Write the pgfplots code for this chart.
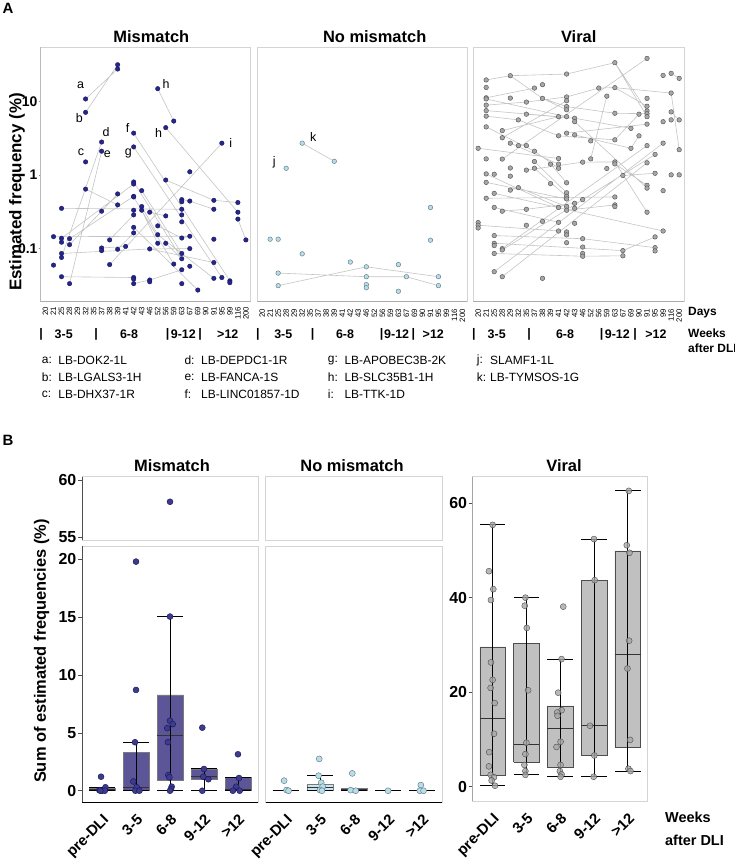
\documentclass[border=0pt]{standalone}
\usepackage{fontspec}
\setmainfont{Liberation Sans}
\usepackage{pgfplots}
\pgfplotsset{compat=1.18}
\definecolor{mmfill}{HTML}{25258A}
\definecolor{mmedge}{HTML}{14145A}
\definecolor{nmfill}{HTML}{B5DDEA}
\definecolor{nmedge}{HTML}{5C6E78}
\definecolor{vfill}{HTML}{A6A6A6}
\definecolor{vedge}{HTML}{4D4D4D}
\definecolor{mmbox}{HTML}{5C5699}
\definecolor{nmbox}{HTML}{C6E6F1}
\definecolor{vbox}{HTML}{C0C0C0}
\definecolor{framegray}{HTML}{D4D4D4}
\definecolor{linegray}{HTML}{C4C4C4}
\definecolor{axgray}{HTML}{8C8C8C}
\definecolor{botgray}{HTML}{ABABAB}
\definecolor{mmdotB}{HTML}{3E3B8A}
\definecolor{boxedge}{HTML}{7A7A7A}
\newcommand{\fs}[1]{\fontsize{#1}{#1}\selectfont}
\pgfplotsset{
  aline/.style={color=linegray, line width=0.6bp, forget plot},
  panelA/.style={
    scale only axis, height=254.7bp,
    ymin=0.01875, ymax=55.1,
    xmin=-0.6, xmax=25.6,
    axis line style={draw=framegray, line width=0.8bp},
    xtick={0,...,25},
    xticklabels={20,21,25,28,29,32,35,37,38,39,41,42,43,46,52,56,59,63,67,69,90,91,95,99,116,200},
    xticklabel style={rotate=90, anchor=east, font=\fs{7.8}, inner sep=0pt},
    xticklabel shift=3bp,
    x tick style={draw=none},
    yminorticks=false, xminorticks=false,
    ytick pos=left, xtick pos=bottom,
    unbounded coords=jump, tick align=outside,
  },
  panelB/.style={
    scale only axis, xmin=0.41, xmax=5.59,
    axis line style={draw=framegray, line width=0.8bp},
    xtick={1,2,3,4,5}, xticklabels={pre-DLI,3-5,6-8,9-12,>12},
    xticklabel style={rotate=45, anchor=north east, font=\bfseries\fs{15}, inner sep=0pt},
    xticklabel shift=7bp,
    x tick style={draw=none},
    ytick pos=left, xtick pos=bottom,
    tick align=outside, major tick length=4bp,
    y tick style={draw=vedge, line width=0.6bp},
    yticklabel style={font=\bfseries\fs{16}, inner sep=1.5bp},
    unbounded coords=jump,
  },
  whisk/.style={black, line width=0.8bp, forget plot},
  med/.style={black!80, line width=1.3bp, forget plot},
}
\begin{document}
\begin{tikzpicture}[x=1bp,y=1bp]
\useasboundingbox (0,0) rectangle (735,863);

% ================= PANEL A: Mismatch =================
\begin{axis}[ymode=log, panelA, at={(40.7bp,561.3bp)}, anchor=south west, width=210bp,
  ytick={0.1,1,10}, yticklabels={0.1,1,10},
  yticklabel style={font=\bfseries\fs{14}, inner sep=1bp},
  y tick style={draw=axgray, line width=0.6bp}, major tick length=2bp]
\addplot[aline] coordinates {
(5,10.8) (9,27.6) (0,nan)
(5,7.1) (9,31.6) (0,nan)
(14,14.9) (16,5.4) (0,nan)
(11,3.7) (23,0.036) (0,nan)
(11,2.4) (22,0.040) (0,nan)
(15,4.4) (24,0.31) (0,nan)
(24,0.25) (25,0.13) (0,nan)
(7,2.8) (2,0.075) (0,nan)
(7,2.1) (3,0.033) (0,nan)
(8,0.060) (22,2.7) (0,nan)
(5,0.64) (9,0.39) (0,nan)
(2,0.35) (17,0.34) (0,nan)
(1,0.144) (18,0.146) (0,nan)
(2,0.137) (11,0.75) (0,nan)
(3,0.112) (7,0.32) (9,0.55) (0,nan)
(3,0.135) (11,0.51) (0,nan)
(2,0.085) (13,0.098) (21,0.064) (0,nan)
(2,0.041) (11,0.040) (0,nan)
(11,0.033) (13,0.037) (17,0.051) (0,nan)
(7,0.101) (10,0.106) (0,nan)
(8,0.13) (11,0.285) (0,nan)
(11,0.80) (17,0.072) (0,nan)
(12,0.61) (17,0.085) (21,0.039) (0,nan)
(11,0.50) (16,0.061) (0,nan)
(11,0.193) (19,0.027) (0,nan)
(13,0.31) (15,0.276) (0,nan)
(14,0.202) (17,0.138) (18,0.146) (0,nan)
(15,0.85) (21,0.45) (24,0.42) (0,nan)
(17,0.46) (18,0.44) (21,0.34) (0,nan)
(12,0.37) (14,0.153) (17,0.085) (0,nan)
(13,0.098) (18,0.099) (0,nan)
(15,0.117) (17,0.072) (0,nan)
(9,0.097) (11,0.162) (0,nan)
(12,0.33) (14,0.117)
};
\addplot[only marks, mark=*, mark size=2.3bp, mark options={fill=mmfill, draw=mmedge, line width=0.3bp}] coordinates {
(1,0.144) (1,0.059)
(2,0.35) (2,0.137) (2,0.121) (2,0.085) (2,0.075) (2,0.041)
(3,0.135) (3,0.112) (3,0.033)
(5,10.8) (5,7.1) (5,1.5) (5,0.64)
(7,2.8) (7,2.1) (7,0.32) (7,0.101) (7,0.093)
(8,0.13) (8,0.060)
(9,31.6) (9,27.6) (9,0.55) (9,0.39) (9,0.097)
(10,0.106)
(11,3.7) (11,2.4) (11,0.80) (11,0.75) (11,0.51) (11,0.50) (11,0.33) (11,0.285) (11,0.193) (11,0.162) (11,0.040) (11,0.038) (11,0.033)
(12,0.61) (12,0.37) (12,0.33)
(13,0.31) (13,0.098) (13,0.037) (13,0.035)
(14,14.9) (14,0.202) (14,0.153) (14,0.117)
(15,4.4) (15,0.85) (15,0.276) (15,0.117)
(16,5.4) (16,0.061)
(17,0.46) (17,0.43) (17,0.34) (17,0.285) (17,0.229) (17,0.138) (17,0.085) (17,0.072) (17,0.051) (17,0.033)
(18,1.1) (18,0.44) (18,0.146) (18,0.099) (18,0.057)
(19,0.027)
(21,0.45) (21,0.34) (21,0.133) (21,0.064) (21,0.039)
(22,2.7) (22,0.040)
(23,0.036) (23,0.034)
(24,0.42) (24,0.31) (24,0.25)
(25,0.13)
};
\draw[axgray, line width=0.8bp] (rel axis cs:0,0) -- (rel axis cs:0,1);
\draw[botgray, line width=0.8bp] (rel axis cs:0,0) -- (rel axis cs:1,0);
\end{axis}

% ================= PANEL A: No mismatch =================
\begin{axis}[ymode=log, panelA, at={(257.3bp,561.3bp)}, anchor=south west, width=210bp, ytick=\empty]
\addplot[aline] coordinates {
(5,2.7) (9,1.53) (0,nan)
(2,0.046) (13,0.041) (18,0.041) (22,0.031) (0,nan)
(2,0.031) (13,0.056) (22,0.041)
};
\addplot[only marks, mark=*, mark size=2.3bp, mark options={fill=nmfill, draw=nmedge, line width=0.4bp}] coordinates {
(5,2.7) (9,1.53) (3,1.23) (1,0.133) (2,0.133) (5,0.084) (2,0.046) (2,0.031)
(11,0.065) (13,0.056) (13,0.041) (13,0.032) (13,0.029) (17,0.060) (17,0.026)
(18,0.041) (21,0.36) (21,0.129) (22,0.041) (22,0.031)
};
\draw[botgray, line width=0.8bp] (rel axis cs:0,0) -- (rel axis cs:1,0);
\end{axis}

% ================= PANEL A: Viral =================
\begin{axis}[ymode=log, panelA, at={(473.3bp,561.3bp)}, anchor=south west, width=210.7bp, ytick=\empty]
\addplot[aline] coordinates {
(1,19.6) (4,22.4) (11,23.6) (17,33.7) (0,nan)
(17,33.7) (21,7.4) (0,nan)
(17,33.7) (21,6.2) (0,nan)
(4,22.4) (8,11.0) (11,7.7) (0,nan)
(1,11.2) (7,15.2) (0,nan)
(1,10.8) (11,6.2) (0,nan)
(1,8.9) (6,9.8) (11,11.5) (15,15.2) (17,15.4) (24,13.0) (0,nan)
(21,38.5) (3,1.64) (0,nan)
(24,13.0) (25,2.2) (0,nan)
(24,24.1) (25,20.6) (0,nan)
(24,7.2) (25,5.6) (0,nan)
(16,11.8) (14,1.65) (0,nan)
(17,15.4) (21,8.6) (0,nan)
(0,2.3) (10,1.67) (0,nan)
(0,0.206) (10,0.172) (0,nan)
(2,0.149) (13,0.135) (22,0.102) (0,nan)
(2,0.117) (18,0.093) (22,0.143) (0,nan)
(2,0.085) (13,0.078) (18,0.079) (0,nan)
(2,0.048) (23,2.7) (0,nan)
(3,0.041) (21,1.46) (0,nan)
(3,0.095) (22,1.9) (0,nan)
(3,0.099) (21,2.5) (0,nan)
(1,0.48) (17,0.50) (0,nan)
(3,0.32) (6,0.34) (12,0.41) (0,nan)
(1,1.03) (10,0.36) (0,nan)
(1,0.79) (11,0.47) (0,nan)
(2,0.56) (23,0.172) (0,nan)
(1,4.5) (7,2.1) (10,1.23) (0,nan)
(1,6.3) (5,5.6) (10,3.4) (0,nan)
(1,7.5) (10,6.2) (0,nan)
(6,6.7) (12,5.9) (19,4.3) (0,nan)
(10,3.4) (17,3.0) (20,6.7) (0,nan)
(12,3.5) (19,2.3) (20,3.4) (0,nan)
(8,11.0) (11,8.5) (17,6.9) (21,6.8) (0,nan)
(4,2.7) (10,1.40) (0,nan)
(6,1.16) (13,1.49) (17,1.5) (0,nan)
(17,1.41) (21,0.72) (0,nan)
(18,0.98) (22,1.05) (0,nan)
(3,4.0) (10,6.2) (0,nan)
(3,3.2) (11,10.2) (0,nan)
(21,0.31) (17,1.5) (0,nan)
(9,1.40) (11,0.78) (0,nan)
(2,0.36) (10,0.226) (0,nan)
(7,1.52) (11,0.57) (0,nan)
(12,5.3) (21,0.66) (0,nan)
(4,0.62) (5,0.67) (11,0.37) (0,nan)
(11,3.7) (21,4.9) (0,nan)
(7,1.23) (11,0.51) (0,nan)
(11,0.33) (17,0.39)
};
\addplot[only marks, mark=*, mark size=2.3bp, mark options={fill=vfill, draw=vedge, line width=0.4bp}] coordinates {
(0,2.3) (0,0.224) (0,0.206) (0,0.189)
(1,19.6) (1,15.5) (1,11.2) (1,10.8) (1,8.9) (1,7.5) (1,6.3) (1,4.5) (1,1.65) (1,1.03) (1,0.79) (1,0.48)
(2,1.02) (2,0.56) (2,0.36) (2,0.149) (2,0.117) (2,0.109) (2,0.085) (2,0.048)
(3,4.0) (3,3.2) (3,1.64) (3,0.32) (3,0.099) (3,0.095) (3,0.041)
(4,22.4) (4,11.1) (4,2.7) (4,1.24) (4,0.96) (4,0.62)
(5,5.6) (5,2.5) (5,0.67)
(6,9.8) (6,6.7) (6,2.5) (6,1.16) (6,0.34) (6,0.206)
(7,15.2) (7,2.1) (7,1.52) (7,1.23)
(8,16.9) (8,11.0) (8,0.233) (8,0.039)
(9,1.40) (9,0.76)
(10,6.2) (10,3.4) (10,1.67) (10,1.40) (10,1.23) (10,0.36) (10,0.226) (10,0.172)
(11,23.6) (11,11.5) (11,10.2) (11,8.5) (11,7.7) (11,6.2) (11,3.7) (11,0.78) (11,0.57) (11,0.51) (11,0.47) (11,0.37) (11,0.33) (11,0.167) (11,0.152) (11,0.119)
(12,5.9) (12,5.3) (12,3.5) (12,0.41) (12,0.35) (12,0.219)
(13,1.49) (13,0.46) (13,0.135) (13,0.104) (13,0.085) (13,0.078)
(14,2.9) (14,1.65)
(15,15.2)
(16,11.8) (16,1.22)
(17,33.7) (17,15.4) (17,6.9) (17,3.0) (17,1.5) (17,1.41) (17,0.50) (17,0.39) (17,0.37)
(18,0.98) (18,0.093) (18,0.079)
(19,4.3) (19,2.3)
(20,6.7) (20,3.4)
(21,38.5) (21,11.0) (21,8.6) (21,7.4) (21,6.8) (21,6.2) (21,4.9) (21,2.5) (21,1.46) (21,0.72) (21,0.66) (21,0.31)
(22,1.9) (22,1.05) (22,0.143) (22,0.102) (22,0.092)
(23,22.6) (23,5.3) (23,2.7) (23,0.61) (23,0.172)
(24,24.1) (24,13.0) (24,7.2) (24,5.6) (24,1.0)
(25,20.6) (25,5.6) (25,2.2) (25,1.0)
};
\draw[botgray, line width=0.8bp] (rel axis cs:0,0) -- (rel axis cs:1,0);
\end{axis}

% ================= PANEL B: Mismatch upper =================
\begin{axis}[panelB, at={(82bp,323bp)}, anchor=south west, width=176bp, height=63.3bp,
  ymin=54.76, ymax=60.29, ytick={55,60}, yticklabels={55,60}, xtick=\empty]
\addplot[only marks, mark=*, mark size=3bp, mark options={fill=mmdotB, draw=mmedge, line width=0.4bp}] coordinates {(3,58.1)};
\draw[vedge, line width=0.8bp] (rel axis cs:0,0) -- (rel axis cs:0,1);
\end{axis}

% ================= PANEL B: Mismatch lower =================
\begin{axis}[panelB, at={(82bp,60.7bp)}, anchor=south west, width=176bp, height=256.3bp,
  ymin=-1.0, ymax=21.15, ytick={0,5,10,15,20}, yticklabels={0,5,10,15,20}]
\addplot[draw=boxedge, fill=mmbox, line width=0.6bp, forget plot] coordinates {(0.62,0) (1.38,0) (1.38,0.22) (0.62,0.22) (0.62,0)};
\addplot[draw=boxedge, fill=mmbox, line width=0.6bp, forget plot] coordinates {(1.62,0) (2.38,0) (2.38,3.32) (1.62,3.32) (1.62,0)};
\addplot[draw=boxedge, fill=mmbox, line width=0.6bp, forget plot] coordinates {(2.62,0.87) (3.38,0.87) (3.38,8.28) (2.62,8.28) (2.62,0.87)};
\addplot[draw=boxedge, fill=mmbox, line width=0.6bp, forget plot] coordinates {(3.62,0.98) (4.38,0.98) (4.38,1.88) (3.62,1.88) (3.62,0.98)};
\addplot[draw=boxedge, fill=mmbox, line width=0.6bp, forget plot] coordinates {(4.62,0) (5.38,0) (5.38,1.16) (4.62,1.16) (4.62,0)};
\addplot[med] coordinates {(0.62,0.05) (1.38,0.05) (0,nan) (1.62,0.26) (2.38,0.26) (0,nan) (2.62,4.76) (3.38,4.76) (0,nan) (3.62,1.21) (4.38,1.21) (0,nan) (4.62,0.05) (5.38,0.05)};
\addplot[whisk] coordinates {
(1,0) (1,0.3) (0,nan) (0.62,0) (1.38,0) (0,nan) (0.62,0.3) (1.38,0.3) (0,nan)
(2,0) (2,4.19) (0,nan) (1.62,0) (2.38,0) (0,nan) (1.62,4.19) (2.38,4.19) (0,nan)
(3,0) (3,15.05) (0,nan) (2.62,0) (3.38,0) (0,nan) (2.62,15.05) (3.38,15.05) (0,nan)
(4,0) (4,1.9) (0,nan) (3.62,0) (4.38,0) (0,nan) (3.62,1.9) (4.38,1.9) (0,nan)
(5,0) (5,1.16) (0,nan) (4.62,0) (5.38,0) (0,nan) (4.62,1.16) (5.38,1.16)
};
\addplot[only marks, mark=*, mark size=3bp, mark options={fill=mmdotB, draw=mmedge, line width=0.4bp}] coordinates {
(0.97,1.21) (1.1,0.3) (0.92,0.05) (1.0,0) (1.08,0) (0.95,0)
(2.0,19.8) (2.0,8.71) (1.97,4.19) (1.92,0.8) (2.02,0.3) (1.98,0) (2.1,0)
(3.0,15.05) (3.0,6.05) (3.08,5.76) (2.92,5.41) (2.94,4.19) (2.95,1.36) (2.98,1.16) (3.05,0.35) (3.03,0.14) (3.0,0)
(3.95,5.45) (4.0,1.88) (3.98,1.21) (4.13,0.99) (3.95,0)
(5.0,3.15) (5.03,1.1) (4.95,0.35) (4.85,0) (5.05,0)
};
\draw[vedge, line width=0.8bp] (rel axis cs:0,0) -- (rel axis cs:0,1);
\draw[black, line width=0.8bp] (rel axis cs:0,0) -- (rel axis cs:1,0);
\end{axis}

% ================= PANEL B: No mismatch upper =================
\begin{axis}[panelB, at={(265.7bp,323bp)}, anchor=south west, width=176.6bp, height=63.3bp,
  ymin=54.76, ymax=60.29, ytick=\empty, xtick=\empty]
\end{axis}

% ================= PANEL B: No mismatch lower =================
\begin{axis}[panelB, at={(265.7bp,60.7bp)}, anchor=south west, width=176.6bp, height=256.3bp,
  ymin=-1.0, ymax=21.15, ytick=\empty]
\addplot[draw=boxedge, fill=nmbox, line width=0.6bp, forget plot] coordinates {(0.62,0) (1.38,0) (1.38,0.05) (0.62,0.05) (0.62,0)};
\addplot[draw=boxedge, fill=nmbox, line width=0.6bp, forget plot] coordinates {(1.62,0.06) (2.38,0.06) (2.38,0.58) (1.62,0.58) (1.62,0.06)};
\addplot[draw=boxedge, fill=nmbox, line width=0.6bp, forget plot] coordinates {(2.62,0) (3.38,0) (3.38,0.2) (2.62,0.2) (2.62,0)};
\addplot[med] coordinates {(0.62,0) (1.38,0) (0,nan) (1.62,0.25) (2.38,0.25) (0,nan) (2.62,0.05) (3.38,0.05) (0,nan) (3.62,0) (4.38,0) (0,nan) (4.62,0) (5.38,0)};
\addplot[whisk] coordinates {
(0.62,0) (1.38,0) (0,nan)
(2,0) (2,1.3) (0,nan) (1.62,0) (2.38,0) (0,nan) (1.62,1.3) (2.38,1.3) (0,nan)
(2.62,0) (3.38,0) (0,nan)
(3.62,0) (4.38,0) (0,nan)
(4.62,0) (5.38,0)
};
\addplot[only marks, mark=*, mark size=3bp, mark options={fill=nmfill, draw=nmedge, line width=0.4bp}] coordinates {
(0.95,0.87) (1.02,0.06) (1.08,0)
(1.98,2.75) (1.96,1.3) (2.04,0.69) (2.08,0.35) (2.0,0.06) (2.06,0)
(2.95,1.5) (2.9,0.05) (3.05,0)
(4.0,0)
(4.96,0.49) (4.93,0) (5.04,0)
};
\draw[black, line width=0.8bp] (rel axis cs:0,0) -- (rel axis cs:1,0);
\end{axis}

% ================= PANEL B: Viral =================
\begin{axis}[panelB, at={(472.7bp,62bp)}, anchor=south west, width=175bp, height=324.3bp,
  ymin=-3.03, ymax=65.6, ytick={0,20,40,60}, yticklabels={0,20,40,60}]
\addplot[draw=vedge, fill=vbox, line width=0.6bp, forget plot] coordinates {(0.62,2.4) (1.38,2.4) (1.38,29.6) (0.62,29.6) (0.62,2.4)};
\addplot[draw=vedge, fill=vbox, line width=0.6bp, forget plot] coordinates {(1.62,5.2) (2.38,5.2) (2.38,30.3) (1.62,30.3) (1.62,5.2)};
\addplot[draw=vedge, fill=vbox, line width=0.6bp, forget plot] coordinates {(2.62,4.2) (3.38,4.2) (3.38,17.1) (2.62,17.1) (2.62,4.2)};
\addplot[draw=vedge, fill=vbox, line width=0.6bp, forget plot] coordinates {(3.62,6.6) (4.38,6.6) (4.38,43.7) (3.62,43.7) (3.62,6.6)};
\addplot[draw=vedge, fill=vbox, line width=0.6bp, forget plot] coordinates {(4.62,8.3) (5.38,8.3) (5.38,49.9) (4.62,49.9) (4.62,8.3)};
\addplot[med] coordinates {(0.62,14.5) (1.38,14.5) (0,nan) (1.62,9.0) (2.38,9.0) (0,nan) (2.62,12.3) (3.38,12.3) (0,nan) (3.62,12.9) (4.38,12.9) (0,nan) (4.62,27.9) (5.38,27.9)};
\addplot[whisk] coordinates {
(1,0.2) (1,55.4) (0,nan) (0.62,0.2) (1.38,0.2) (0,nan) (0.62,55.4) (1.38,55.4) (0,nan)
(2,2.5) (2,40.0) (0,nan) (1.62,2.5) (2.38,2.5) (0,nan) (1.62,40.0) (2.38,40.0) (0,nan)
(3,2.1) (3,27.0) (0,nan) (2.62,2.1) (3.38,2.1) (0,nan) (2.62,27.0) (3.38,27.0) (0,nan)
(4,2.1) (4,52.4) (0,nan) (3.62,2.1) (4.38,2.1) (0,nan) (3.62,52.4) (4.38,52.4) (0,nan)
(5,3.3) (5,62.6) (0,nan) (4.62,3.3) (5.38,3.3) (0,nan) (4.62,62.6) (5.38,62.6)
};
\addplot[only marks, mark=*, mark size=3bp, mark options={fill=vfill, fill opacity=0.8, draw=vedge, line width=0.4bp}] coordinates {
(1.0,55.4) (0.89,45.6) (1.02,41.8) (0.95,39.5) (0.95,26.3) (1.0,22.6) (0.94,20.9) (1.06,17.7) (1.04,11.2) (0.9,7.3) (0.89,4.3) (0.94,2.5) (1.04,2.0) (0.97,1.3) (1.07,0.2)
(1.97,40.0) (1.95,38.3) (2.01,33.6) (2.05,20.4) (2.0,9.3) (1.97,6.9) (1.94,4.6) (1.97,3.3) (1.97,2.5)
(3.09,38.1) (3.04,27.0) (2.94,19.9) (3.04,16.2) (2.91,15.7) (2.92,15.0) (3.01,9.5) (2.89,8.4) (3.01,4.6) (2.99,3.3) (3.04,2.6) (3.01,2.1)
(4.0,52.4) (4.02,43.7) (3.88,12.9) (4.01,6.6) (3.99,2.1)
(5.03,62.6) (4.97,51.1) (5.05,49.5) (5.04,30.9) (4.99,25.0) (5.07,9.9) (5.02,3.8) (5.08,3.3)
};
\draw[vedge, line width=0.8bp] (rel axis cs:0,0) -- (rel axis cs:0,1);
\draw[black, line width=0.8bp] (rel axis cs:0,0) -- (rel axis cs:1,0);
\end{axis}

% ================= Text: panel A =================
\node[font=\bfseries\fs{15}] at (8,855) {A};
\node[font=\bfseries\fs{16.5}] at (151.3,826) {Mismatch};
\node[font=\bfseries\fs{16.5}] at (374.7,826) {No mismatch};
\node[font=\bfseries\fs{16.5}] at (578.7,826) {Viral};
\node[font=\bfseries\fs{17}, rotate=90] at (17,671) {Estimated frequency (\%)};
\node[font=\bfseries\fs{12}, anchor=west, inner sep=0pt] at (688,550) {Days};
\node[font=\bfseries\fs{12}, anchor=west, inner sep=0pt] at (688,530) {Weeks};
\node[font=\bfseries\fs{12}, anchor=west, inner sep=0pt] at (688,515) {after DLI};
\begin{scope}[every node/.style={font=\bfseries\fs{12.5}, inner sep=0pt}]
\node at (41.2,529) {|}; \node at (63.7,529) {3-5}; \node at (96,529) {|}; \node at (129,529) {6-8};
\node at (167.7,529) {|}; \node at (183.3,529) {9-12}; \node at (200,529) {|}; \node at (227.8,529) {>12};
\node at (257.8,529) {|}; \node at (283.3,529) {3-5}; \node at (312.7,529) {|}; \node at (345,529) {6-8};
\node at (381.7,529) {|}; \node at (396.7,529) {9-12}; \node at (413.3,529) {|}; \node at (433.3,529) {>12};
\node at (473.8,529) {|}; \node at (496.7,529) {3-5}; \node at (529,529) {|}; \node at (565,529) {6-8};
\node at (601.7,529) {|}; \node at (617.3,529) {9-12}; \node at (635,529) {|}; \node at (656,529) {>12};
\end{scope}
\begin{scope}[every node/.style={font=\fs{12}, anchor=west, inner sep=0pt}]
\node at (41.7,502.3) {a:}; \node at (58.3,502.3) {LB-DOK2-1L};
\node at (41.7,485.7) {b:}; \node at (58.3,485.7) {LB-LGALS3-1H};
\node at (41.7,469) {c:}; \node at (58.3,469) {LB-DHX37-1R};
\node at (184.3,502.3) {d:}; \node at (201,502.3) {LB-DEPDC1-1R};
\node at (184.3,485.7) {e:}; \node at (201,485.7) {LB-FANCA-1S};
\node at (184.3,469) {f:}; \node at (201,469) {LB-LINC01857-1D};
\node at (327.7,502.3) {g:}; \node at (344.3,502.3) {LB-APOBEC3B-2K};
\node at (327.7,485.7) {h:}; \node at (344.3,485.7) {LB-SLC35B1-1H};
\node at (327.7,469) {i:}; \node at (344.3,469) {LB-TTK-1D};
\node at (476.7,502.3) {j:}; \node at (490,502.3) {SLAMF1-1L};
\node at (476.7,485.7) {k:}; \node at (490,485.7) {LB-TYMSOS-1G};
\end{scope}
\begin{scope}[every node/.style={font=\fs{12.5}, inner sep=0pt}]
\node at (80.7,778) {a}; \node at (79.3,744.7) {b}; \node at (81,711) {c};
\node at (106,731.3) {d}; \node at (107.3,708.7) {e};
\node at (127.7,735.3) {f}; \node at (128.3,709.7) {g};
\node at (166,778.7) {h}; \node at (158.7,730.3) {h}; \node at (230.7,720.3) {i};
\node at (274.3,700.7) {j}; \node at (313.3,725.7) {k};
\end{scope}

% ================= Text: panel B =================
\node[font=\bfseries\fs{15}] at (8,423) {B};
\node[font=\bfseries\fs{16.5}] at (172,397) {Mismatch};
\node[font=\bfseries\fs{16.5}] at (352,397) {No mismatch};
\node[font=\bfseries\fs{16.5}] at (564,397) {Viral};
\node[font=\bfseries\fs{16.5}, rotate=90] at (41.7,212) {Sum of estimated frequencies (\%)};
\node[font=\bfseries\fs{14.5}, anchor=west, inner sep=0pt] at (665,46) {Weeks};
\node[font=\bfseries\fs{14.5}, anchor=west, inner sep=0pt] at (665,23) {after DLI};
\end{tikzpicture}
\end{document}
